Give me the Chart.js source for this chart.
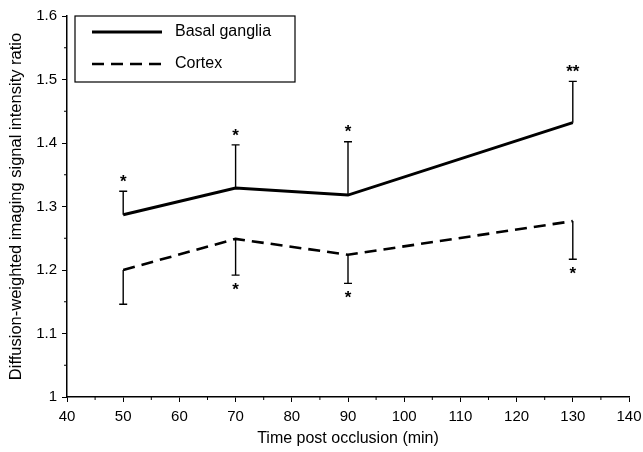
<!DOCTYPE html>
<html>
<head>
<meta charset="utf-8">
<script src="https://cdn.jsdelivr.net/npm/chart.js@4"></script>
<style>
  html, body { margin: 0; padding: 0; background: #fff; }
  #wrap { width: 643px; height: 452px; }
</style>
</head>
<body>
<div id="wrap"><canvas id="dwiChart" width="643" height="452"></canvas></div>
<script>
// values
const times = [50, 70, 90, 130];
const basalMean = [1.287, 1.329, 1.318, 1.432];
const basalUpper = [1.324, 1.397, 1.402, 1.497];
const cortexMean = [1.200, 1.249, 1.224, 1.277];
const cortexLower = [1.146, 1.192, 1.179, 1.217];
const basalStars = ['*', '*', '*', '**'];
const cortexStars = ['', '*', '*', '*'];
const xTicks = [40, 50, 60, 70, 80, 90, 100, 110, 120, 130, 140];
const yTicks = [1, 1.1, 1.2, 1.3, 1.4, 1.5, 1.6];
const legendLabels = ['Basal ganglia', 'Cortex'];

const FONT = "'Liberation Sans', Arial, sans-serif";

/** error bars, stars, minor ticks and the boxed legend */
const extras = {
  id: 'extras',
  afterDatasetsDraw(chart) {
    const { ctx, scales: { x, y } } = chart;
    ctx.save();
    ctx.strokeStyle = '#000';
    ctx.fillStyle = '#000';
    ctx.lineWidth = 1.4;

    const bar = (t, from, to) => {
      const px = x.getPixelForValue(t);
      const y1 = y.getPixelForValue(from);
      const y2 = y.getPixelForValue(to);
      ctx.beginPath();
      ctx.moveTo(px, y1);
      ctx.lineTo(px, y2);
      ctx.moveTo(px - 4, y2);
      ctx.lineTo(px + 4, y2);
      ctx.stroke();
    };
    times.forEach((t, i) => bar(t, basalMean[i], basalUpper[i]));
    times.forEach((t, i) => bar(t, cortexMean[i], cortexLower[i]));

    ctx.font = 'bold 17px ' + FONT;
    ctx.textAlign = 'center';
    ctx.textBaseline = 'middle';
    times.forEach((t, i) => {
      ctx.fillText(basalStars[i], x.getPixelForValue(t), y.getPixelForValue(basalUpper[i]) - 9);
      ctx.fillText(cortexStars[i], x.getPixelForValue(t), y.getPixelForValue(cortexLower[i]) + 15);
    });
    ctx.restore();
  },
  afterDraw(chart) {
    const { ctx, chartArea, scales: { x, y } } = chart;
    ctx.save();
    ctx.strokeStyle = '#000';
    ctx.lineWidth = 1;

    // minor ticks
    for (let v = 45; v < 140; v += 10) {
      const px = x.getPixelForValue(v);
      ctx.beginPath();
      ctx.moveTo(px, chartArea.bottom);
      ctx.lineTo(px, chartArea.bottom + 3);
      ctx.stroke();
    }
    for (let v = 1.05; v < 1.6; v += 0.1) {
      const py = y.getPixelForValue(v);
      ctx.beginPath();
      ctx.moveTo(chartArea.left, py);
      ctx.lineTo(chartArea.left - 3, py);
      ctx.stroke();
    }

    // legend box
    const bx = chartArea.left + 8, by = chartArea.top, bw = 220, bh = 66;
    ctx.lineWidth = 1.2;
    ctx.strokeRect(bx, by, bw, bh);
    const rows = [
      { label: legendLabels[0], dash: [], width: 3, yy: by + 16 },
      { label: legendLabels[1], dash: [12, 7], width: 2.6, yy: by + 48 }
    ];
    ctx.font = '16px ' + FONT;
    ctx.textAlign = 'left';
    ctx.textBaseline = 'middle';
    ctx.fillStyle = '#000';
    rows.forEach(r => {
      ctx.setLineDash(r.dash);
      ctx.lineWidth = r.width;
      ctx.beginPath();
      ctx.moveTo(bx + 17, r.yy);
      ctx.lineTo(bx + 87, r.yy);
      ctx.stroke();
      ctx.setLineDash([]);
      ctx.fillText(r.label, bx + 100, r.yy);
    });
    ctx.restore();
  }
};

new Chart(document.getElementById('dwiChart'), {
  type: 'line',
  data: {
    datasets: [
      {
        label: legendLabels[0],
        data: times.map((t, i) => ({ x: t, y: basalMean[i] })),
        borderColor: '#000',
        borderWidth: 3,
        pointRadius: 0,
        tension: 0
      },
      {
        label: legendLabels[1],
        data: times.map((t, i) => ({ x: t, y: cortexMean[i] })),
        borderColor: '#000',
        borderWidth: 2.6,
        borderDash: [12, 7],
        pointRadius: 0,
        tension: 0
      }
    ]
  },
  options: {
    responsive: false,
    animation: false,
    layout: { padding: { left: 0, top: 16, right: 14, bottom: 0 } },
    plugins: { legend: { display: false }, tooltip: { enabled: false } },
    scales: {
      x: {
        type: 'linear',
        min: 40,
        max: 140,
        afterBuildTicks: s => { s.ticks = xTicks.map(v => ({ value: v })); },
        afterFit: s => { s.height = 55; s.paddingLeft = 0; s.paddingRight = 0; },
        border: { display: true, color: '#000', width: 1.5 },
        grid: { drawOnChartArea: false, drawTicks: true, tickLength: 5, color: '#000', tickWidth: 1 },
        ticks: { color: '#000', padding: 6, font: { family: FONT, size: 15 } },
        title: { display: true, text: 'Time post occlusion (min)', color: '#000', padding: { top: 6 }, font: { family: FONT, size: 16 } }
      },
      y: {
        min: 1,
        max: 1.6,
        afterBuildTicks: s => { s.ticks = yTicks.map(v => ({ value: v })); },
        afterFit: s => { s.width = 67; s.paddingTop = 0; s.paddingBottom = 0; },
        border: { display: true, color: '#000', width: 1.5 },
        grid: { drawOnChartArea: false, drawTicks: true, tickLength: 5, color: '#000', tickWidth: 1 },
        ticks: { color: '#000', padding: 5, font: { family: FONT, size: 15 }, callback: v => String(Math.round(v * 10) / 10) },
        title: { display: true, text: 'Diffusion-weighted imaging signal intensity ratio', color: '#000', padding: { top: 7, bottom: 4 }, font: { family: FONT, size: 16.5 } }
      }
    }
  },
  plugins: [extras]
});
</script>
</body>
</html>
